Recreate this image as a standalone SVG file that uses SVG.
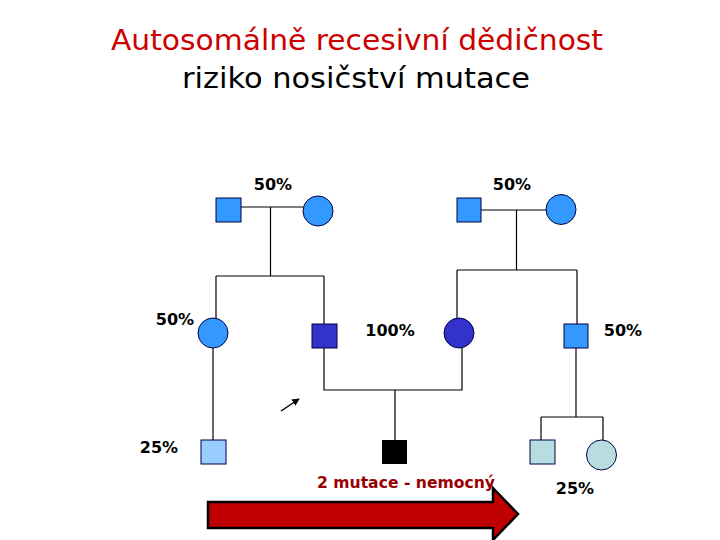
<svg xmlns="http://www.w3.org/2000/svg" width="720" height="540" viewBox="0 0 720 540">
<style>
.t{font-family:'Comic Sans MS','DejaVu Sans',sans-serif;text-anchor:middle}
.title{font-size:28px;fill:#cc0000}
.sub{font-size:28px;fill:#000}
.pct{font-size:16px;font-weight:bold;fill:#000}
.ln{stroke:#000;stroke-width:1.2;fill:none}
.nd{stroke:#000044;stroke-width:1}
.mid{fill:#3399ff}
.dark{fill:#3333cc}
.light{fill:#99ccff}
.teal{fill:#b8dde0}
</style>
<defs>
<marker id="ah" viewBox="0 0 10 10" refX="9" refY="5" markerWidth="5" markerHeight="5" orient="auto">
<path d="M0,0 L10,5 L0,10 z" fill="#000"/>
</marker>
</defs>
<rect width="720" height="540" fill="#fff"/>
<text class="t title" x="357" y="50" textLength="492" lengthAdjust="spacingAndGlyphs">Autosomálně recesivní dědičnost</text>
<text class="t sub" x="356" y="88" textLength="348" lengthAdjust="spacingAndGlyphs">riziko nosičství mutace</text>
<g id="connectors">
<path class="ln" d="M241,207 H303 M270.5,207 V276 M216,276 H324 M216,276 V318 M324,276 V324"/>
<path class="ln" d="M481,210 H546 M516.5,210 V270 M457,270 H577 M457,270 V318 M577,270 V324"/>
<path class="ln" d="M324,348 V390 H462 V348 M395,390 V440"/>
<path class="ln" d="M213,348 V440"/>
<path class="ln" d="M576,348 V417 M541,417 H603 M541,417 V440 M603,417 V440"/>
<line x1="281" y1="411" x2="299" y2="399" stroke="#000" stroke-width="1.5" marker-end="url(#ah)"/>
</g>
<g id="gf1"><rect class="nd mid" x="216" y="198" width="25" height="24"/></g>
<g id="gm1"><circle class="nd mid" cx="318" cy="211" r="15"/></g>
<g id="gf2"><rect class="nd mid" x="457" y="198" width="24" height="24"/></g>
<g id="gm2"><circle class="nd mid" cx="561" cy="209.5" r="15"/></g>
<g id="aunt"><circle class="nd mid" cx="213" cy="333" r="15"/></g>
<g id="father"><rect class="nd dark" x="312" y="324" width="25" height="24"/></g>
<g id="mother"><circle class="nd dark" cx="459" cy="333" r="15"/></g>
<g id="uncle"><rect class="nd mid" x="564" y="324" width="24" height="24"/></g>
<g id="cousin1"><rect class="nd light" x="201" y="440" width="25" height="24"/></g>
<g id="child"><rect x="382" y="440" width="25" height="24" fill="#000"/></g>
<g id="cousin2"><rect class="nd teal" x="530" y="440" width="25" height="24"/></g>
<g id="cousin3"><circle class="nd teal" cx="601.5" cy="455" r="15"/></g>
<g id="labels">
<text class="t pct" x="273" y="190">50%</text>
<text class="t pct" x="512" y="190">50%</text>
<text class="t pct" x="175" y="325">50%</text>
<text class="t pct" x="390" y="336">100%</text>
<text class="t pct" x="623" y="336">50%</text>
<text class="t pct" x="159" y="453">25%</text>
<text class="t pct" x="575" y="494">25%</text>
</g>
<g id="bigarrow"><polygon points="208,502 493,502 493,488 518,514 493,540 493,528 208,528" fill="#c00000" stroke="#000" stroke-width="2.5" stroke-linejoin="miter"/></g>
<text class="t" x="406" y="488" font-size="15" font-weight="bold" fill="#990000" textLength="178" lengthAdjust="spacingAndGlyphs">2 mutace - nemocný</text>
</svg>
